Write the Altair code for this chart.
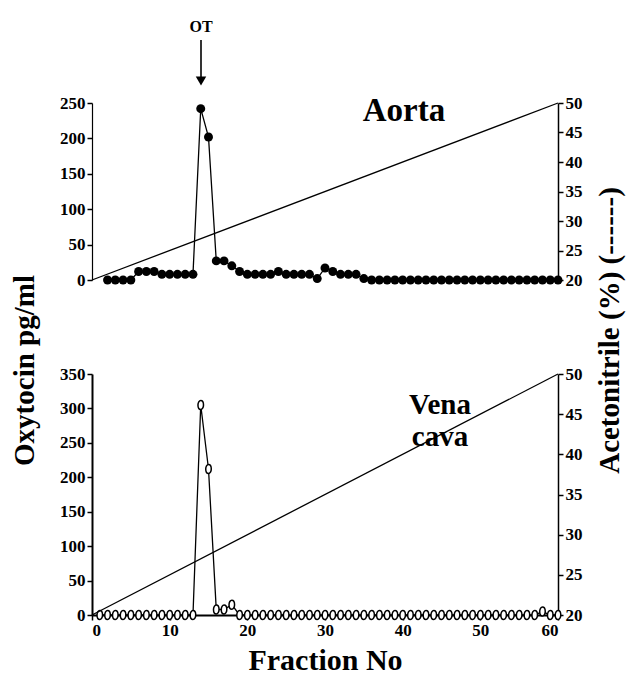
import altair as alt
import pandas as pd

FONT = "Liberation Serif"

# Aorta (filled dots), fractions 2..60
frac_top = list(range(2, 61))
aorta = [0, 0, 0, 0, 12, 12, 12, 8, 8, 8, 8, 8, 242, 202, 27, 27, 20, 12,
         8, 8, 8, 8, 12, 8, 8, 8, 8, 2, 17, 12, 8, 8, 8, 2] + [0] * 25

# Vena cava (open circles), fractions 1..60
frac_bot = list(range(1, 61))
vena = [0] * 13 + [305, 212, 8, 8, 15] + [0] * 39 + [5, 0, 0]

# Acetonitrile gradient
grad_frac = [0, 60]
grad_acn = [20, 50]

df_top = pd.DataFrame({"frac": frac_top, "oxy": aorta})
df_bot = pd.DataFrame({"frac": frac_bot, "oxy": vena})
df_grad = pd.DataFrame({"frac": grad_frac, "acn": grad_acn})

W = 466
H_TOP = 177
H_BOT = 241
LBL = 17
TTL = 29

x_top = alt.X("frac:Q", scale=alt.Scale(domain=[0, 60], nice=False), axis=None)
x_bot = alt.X("frac:Q", scale=alt.Scale(domain=[0, 60], nice=False),
              axis=alt.Axis(values=list(range(0, 61, 10)), title="Fraction No",
                            titleFontSize=30, titlePadding=7, tickSize=5,
                            domainWidth=2, tickWidth=1.5, labelPadding=2))


def right_axis(show_title):
    kw = dict(orient="right", values=list(range(20, 51, 5)), tickSize=5,
              domainWidth=1.5, tickWidth=1.5, labelPadding=2)
    if show_title:
        kw.update(title="Acetonitrile (%) (------)", titleAngle=270,
                  titleFontSize=TTL, titleX=51, titleY=227, titleBaseline="middle",
                  titleAlign="center")
    else:
        kw.update(title=None)
    return alt.Axis(**kw)


def left_axis(step_max, show_title, dw):
    kw = dict(orient="left", values=list(range(0, step_max + 1, 50)), tickSize=5,
              domainWidth=dw, tickWidth=1.5, labelPadding=2)
    if show_title:
        kw.update(title="Oxytocin pg/ml", titleAngle=270, titleFontSize=TTL,
                  titleX=-68, titleY=267, titleBaseline="middle", titleAlign="center")
    else:
        kw.update(title=None)
    return alt.Axis(**kw)


def one():
    return alt.Chart(df_grad).transform_filter("datum.frac == 0")


ELLIPSE = "M0,-1 A0.62,1 0 1,1 0,1 A0.62,1 0 1,1 0,-1 Z"

# ---------- top panel ----------
top_grad = alt.Chart(df_grad).mark_line(color="black", strokeWidth=1.3).encode(
    x=x_top,
    y=alt.Y("acn:Q", scale=alt.Scale(domain=[20, 50], nice=False), axis=right_axis(True)),
)
top_line = alt.Chart(df_top).mark_line(
    color="black", strokeWidth=1.3,
    point=alt.OverlayMarkDef(shape="circle", filled=True, color="black", size=80, opacity=1),
).encode(
    x=x_top,
    y=alt.Y("oxy:Q", scale=alt.Scale(domain=[0, 250], nice=False),
            axis=left_axis(250, True, 1.2)),
)
aorta_txt = one().mark_text(
    text="Aorta", font=FONT, fontSize=33, fontWeight="bold", baseline="middle"
).encode(x=alt.value(312), y=alt.value(8))
ot_txt = one().mark_text(
    text="OT", font=FONT, fontSize=16, fontWeight="bold", baseline="middle"
).encode(x=alt.value(109), y=alt.value(-76))
ot_rule = one().mark_rule(color="black", strokeWidth=1.6).encode(
    x=alt.value(109), y=alt.value(-63), y2=alt.value(-26))
ot_head = one().mark_point(
    shape="triangle-down", filled=True, color="black", size=110, opacity=1
).encode(x=alt.value(109), y=alt.value(-22))

top = alt.layer(top_line, top_grad, aorta_txt, ot_txt, ot_rule, ot_head).resolve_scale(
    y="independent").properties(width=W, height=H_TOP)

# ---------- bottom panel ----------
bot_grad = alt.Chart(df_grad).mark_line(color="black", strokeWidth=1.3).encode(
    x=x_bot,
    y=alt.Y("acn:Q", scale=alt.Scale(domain=[20, 50], nice=False), axis=right_axis(False)),
)
bot_line = alt.Chart(df_bot).mark_line(
    color="black", strokeWidth=1.3,
    point=alt.OverlayMarkDef(shape=ELLIPSE, filled=False, color="black", size=80,
                             strokeWidth=1.5, opacity=1, fill="white"),
).encode(
    x=x_bot,
    y=alt.Y("oxy:Q", scale=alt.Scale(domain=[0, 350], nice=False),
            axis=left_axis(350, False, 2)),
)
vena_txt = one().mark_text(
    text="Vena", font=FONT, fontSize=29, fontWeight="bold", baseline="middle"
).encode(x=alt.value(348), y=alt.value(31))
cava_txt = one().mark_text(
    text="cava", font=FONT, fontSize=29, fontWeight="bold", baseline="middle"
).encode(x=alt.value(348), y=alt.value(63))

bot = alt.layer(bot_line, bot_grad, vena_txt, cava_txt).resolve_scale(
    y="independent").properties(width=W, height=H_BOT)

chart = alt.vconcat(top, bot, spacing=94, bounds="flush").properties(
    padding={"top": 11, "left": 2, "right": 5, "bottom": 5}, background="white"
).configure_view(stroke=None).configure_axis(
    grid=False, labelFont=FONT, labelFontSize=LBL, labelFontWeight="bold",
    labelColor="black", titleFont=FONT, titleFontWeight="bold", titleColor="black",
    domainColor="black", tickColor="black",
)

chart.save("out.html", embed_options={"renderer": "svg", "actions": False})
